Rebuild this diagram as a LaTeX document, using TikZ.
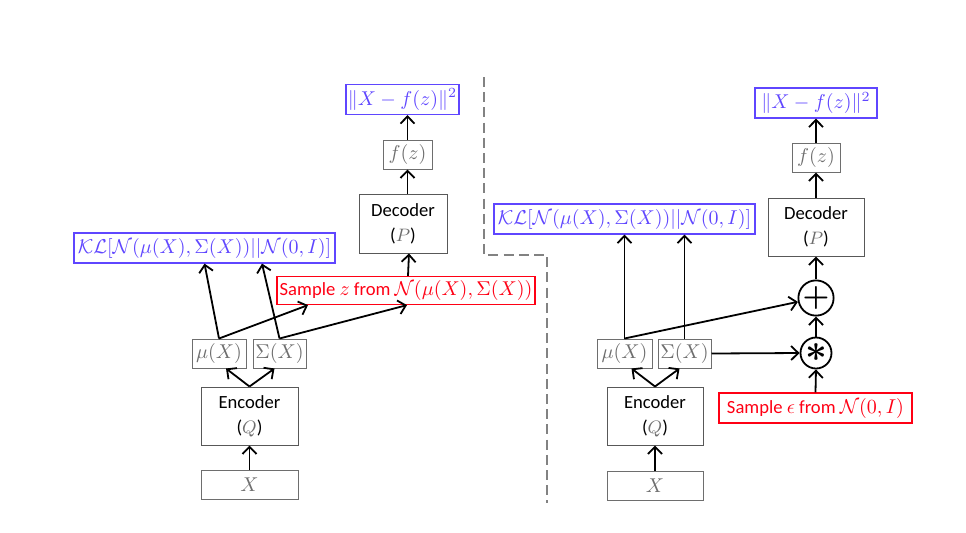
\documentclass[tikz,border=0pt]{standalone}
\usepackage{fontspec}
\setmainfont{Carlito}
\usepackage{amsmath,amssymb,bm}
\usetikzlibrary{arrows.meta,calc}
\definecolor{kblue}{RGB}{95,70,255}
\definecolor{kred}{RGB}{255,0,20}
\definecolor{kgray}{RGB}{110,110,110}
\definecolor{kdash}{RGB}{130,130,130}
\tikzset{
  gbox/.style={draw=kgray, line width=0.5pt, text=kgray, inner sep=0pt, minimum height=14.5pt},
  bbox/.style={draw=kblue, line width=0.6pt, text=kblue, inner sep=0pt, minimum height=15pt},
  rbox/.style={draw=kred, line width=0.6pt, text=kred, inner sep=0pt, minimum height=14pt, font=\fontsize{9.3}{11}\selectfont},
  blk/.style={draw=kgray!80!black, line width=0.5pt, inner sep=0pt, align=center, font=\fontsize{9.3}{12.5}\selectfont},
  opc/.style={circle, draw=black, line width=0.9pt, inner sep=0pt, minimum size=15.5pt},
  arr/.style={line width=0.9pt, -{Straight Barb[length=3.6pt,width=7pt,line width=0.9pt]}},
  ln/.style={line width=0.9pt},
  sep/.style={draw=kdash, line width=1.3pt, dash pattern=on 5pt off 2.6pt}
}
\begin{document}
\begin{tikzpicture}[x=0.5pt,y=-0.5pt]
\useasboundingbox (0,0) rectangle (966,532);
% ---------------- left ----------------
\node[gbox, minimum width=48.5pt] (lX) at (249.5,485) {$X$};
\node[blk, minimum width=48.5pt, minimum height=29pt] (lEnc) at (249.5,416) {Encoder\\({\color{kgray}$Q$})};
\node[gbox, minimum width=27pt] (lmu) at (219,353.5) {$\mu(X)$};
\node[gbox, minimum width=26.5pt] (lSig) at (279.5,353.5) {$\Sigma(X)$};
\node[bbox, minimum width=130.5pt] (lKL) at (204.5,248) {$\mathcal{KL}[\mathcal{N}(\mu(X),\Sigma(X))||\mathcal{N}(0,I)]$};
\node[rbox, minimum width=129pt] (lS) at (406,290.5) {Sample {\fontsize{10}{12}\selectfont$z$} from {\fontsize{10}{12}\selectfont$\mathcal{N}(\mu(X),\Sigma(X))$}};
\node[blk, minimum width=44pt, minimum height=29.5pt] (lDec) at (403,223.5) {Decoder\\({\color{kgray}$P$})};
\node[gbox, minimum width=24.5pt] (lf) at (407.5,154.5) {$f(z)$};
\node[bbox, minimum width=56.5pt] (lL) at (402.5,99.5) {$\|X-f(z)\|^2$};

\draw[arr] (lX) -- (lEnc);
\draw[arr] (lEnc.north) -- ($(lmu.south)+(7,0)$);
\draw[arr] (lEnc.north) -- ($(lSig.south)+(-5,0)$);
\draw[arr] (lmu.north) -- (lKL.south);
\draw[arr] (lSig.north) -- ($(lKL.south)+(57.5,0)$);
\draw[arr] (lmu.north) -- ($(lS.south)+(-98,0)$);
\draw[arr] (lSig.north) -- ($(lS.south)+(1,0)$);
\draw[arr] ($(lS.north)+(2,0)$) -- ($(lDec.south)+(6,0)$);
\draw[arr] ($(lDec.north)+(4.5,0)$) -- (lf.south);
\draw[arr] (lf.north) -- ($(lL.south)+(5,0)$);

% ---------------- separator ----------------
\coordinate (d1) at (484,77);
\coordinate (d2) at (484,255);
\coordinate (d3) at (547,255);
\coordinate (d4) at (547,503);
\draw[sep] (d1) -- (d2) -- (d3) -- (d4);

% ---------------- right ----------------
\node[gbox, minimum width=48pt] (rX) at (655,485.5) {$X$};
\node[blk, minimum width=48pt, minimum height=29pt] (rEnc) at (655,416) {Encoder\\({\color{kgray}$Q$})};
\node[gbox, minimum width=27.5pt] (rmu) at (624.5,353.5) {$\mu(X)$};
\node[gbox, minimum width=26.5pt] (rSig) at (684.5,353.5) {$\Sigma(X)$};
\node[bbox, minimum width=130.5pt] (rKL) at (624.5,219) {$\mathcal{KL}[\mathcal{N}(\mu(X),\Sigma(X))||\mathcal{N}(0,I)]$};
\node[opc] (mul) at (816,353) {\scalebox{1.9}{$\boldsymbol{\ast}$}};
\node[opc] (plus) at (816,298) {\scalebox{1.5}{$\boldsymbol{+}$}};
\node[rbox, minimum width=96.5pt, minimum height=15pt] (rS) at (815.5,408) {Sample {\fontsize{10}{12}\selectfont$\epsilon$} from {\fontsize{10}{12}\selectfont$\mathcal{N}(0,I)$}};
\node[blk, minimum width=48pt, minimum height=29pt] (rDec) at (816,227) {Decoder\\({\color{kgray}$P$})};
\node[gbox, minimum width=24pt] (rf) at (816,157.5) {$f(z)$};
\node[bbox, minimum width=61pt] (rL) at (816,103) {$\|X-f(z)\|^2$};

\draw[arr] (rX) -- (rEnc);
\draw[arr] (rEnc.north) -- ($(rmu.south)+(7,0)$);
\draw[arr] (rEnc.north) -- ($(rSig.south)+(-5,0)$);
\draw[arr] (rmu.north) -- (rmu.north |- rKL.south);
\draw[arr] (rSig.north) -- (rSig.north |- rKL.south);
\draw[arr] (rmu.north) -- (plus);
\draw[arr] (rSig.east) -- (mul.west);
\draw[arr] (rS.north) -- (mul.south);
\draw[arr] (mul.north) -- (plus.south);
\draw[arr] (plus.north) -- (rDec.south);
\draw[arr] (rDec.north) -- (rf.south);
\draw[arr] (rf.north) -- (rL.south);
\end{tikzpicture}
\end{document}
